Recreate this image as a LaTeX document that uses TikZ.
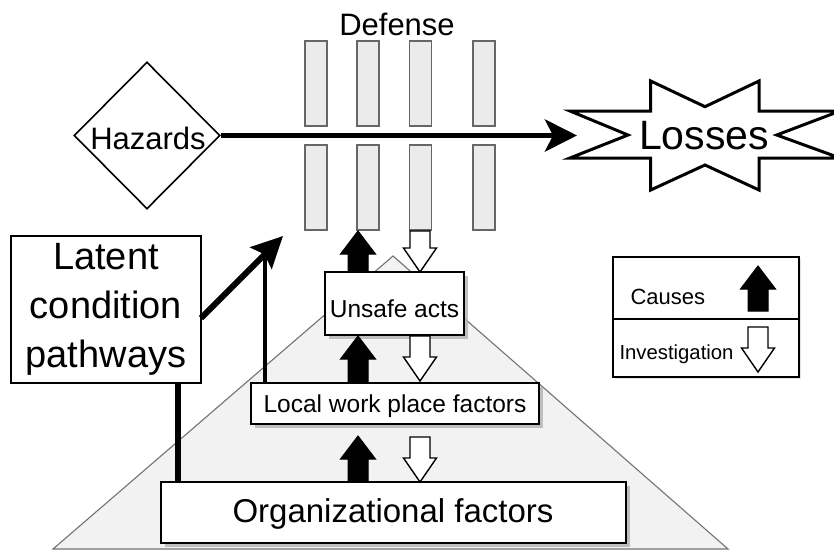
\documentclass[tikz,border=0pt]{standalone}
\usepackage{fontspec}
\setmainfont{Liberation Sans}
\usetikzlibrary{arrows.meta,shapes.geometric,shadows}

% block arrows: [style]{x}{tip y}{base y} and [style]{x}{top y}{tip y}
\newcommand\blockUp[4][]{%
  \draw[#1] ({#2-10},#4) -- ({#2-10},{#3+23}) -- ({#2-17.5},{#3+23}) -- (#2,#3)
    -- ({#2+17.5},{#3+23}) -- ({#2+10},{#3+23}) -- ({#2+10},#4) -- cycle;}
\newcommand\blockDown[4][]{%
  \draw[#1] ({#2-10},#3) -- ({#2-10},{#4-24}) -- ({#2-16.5},{#4-24}) -- (#2,#4)
    -- ({#2+16.5},{#4-24}) -- ({#2+10},{#4-24}) -- ({#2+10},#3) -- cycle;}

\begin{document}
\begin{tikzpicture}[x=1pt,y=-1pt,
  bar/.style={draw=black!60, fill=black!8, line width=1.2pt, minimum width=22pt, minimum height=85pt, inner sep=0pt},
  box/.style={draw=black, fill=white, line width=1.4pt, inner sep=0pt},
  shadowed/.style={drop shadow={shadow xshift=4pt, shadow yshift=-4pt, fill=black!30, opacity=0.8}},
  cause/.style={fill=black, draw=black, line width=1pt, line join=miter},
  invest/.style={fill=white, draw=black, line width=1.4pt, line join=miter},
  pyr/.style={fill=black!5, draw=black!55, line width=1.1pt},
  fA/.style={font=\fontsize{24.5}{29}\selectfont},
  fB/.style={font=\fontsize{31}{37}\selectfont},
]
\useasboundingbox (0,0) rectangle (834,551);

% pyramid
\path[pyr] (393,256) coordinate (apex) -- (728,549) -- (53,549) -- cycle;

% defense barriers
\node[fB] (def) at (397,24) {Defense};
\foreach \i/\x in {1/316,2/368,3/420.5,4/484}{
  \node[bar] (bt\i) at (\x,83.5) {};
  \node[bar] (bb\i) at (\x,187.5) {};
}

% hazards and losses
\node[diamond, draw, line width=1.6pt, minimum width=146pt, minimum height=147pt, inner sep=0pt] (haz) at (147,135.5) {};
\node[fB] (hazt) at (148,138) {Hazards};

\draw[line width=3pt, line join=miter]
  (570,111) -- (650.7,111) -- (650.7,81) -- (705,106.7) -- (759,81) -- (759,111)
  -- (840,111) -- (776.7,135) -- (840,158) -- (759,158) -- (759,190) -- (705,165)
  -- (650.7,190) -- (650.7,158) -- (570,158) -- (628,135) -- cycle;
\node[font=\fontsize{41}{48}\selectfont] (los) at (704,136) {Losses};
\coordinate (losin) at (577,135.5);

\draw[line width=5.5pt, -{Stealth[length=32pt,width=32pt,inset=8pt]}] (haz.east) -- (losin);

% latent condition pathways
\node[box, minimum width=190pt, minimum height=147pt, align=center,
      font=\fontsize{38}{49}\selectfont] (lat) at (106,309.5) {Latent\\condition\\pathways};

% layered factors
\node[box, shadowed, minimum width=465pt, minimum height=61pt] (org) at (393.5,512.5) {};
\node[font=\fontsize{33}{39}\selectfont] (orgt) at (393,514) {Organizational factors};
\node[box, shadowed, minimum width=288pt, minimum height=41pt] (loc) at (395,403.5) {};
\node[fA] (loct) at (395,406) {Local work place factors};
\node[box, shadowed, minimum width=139pt, minimum height=63pt] (uns) at (394.5,303.5) {};
\node[fA] (unst) at (394.5,309) {Unsafe acts};

% latent pathways into the defenses
\coordinate (latout) at (201,318);
\coordinate (pathtip) at (283,236);
\coordinate (locup) at (265,384);
\coordinate (locend) at (265,258);
\draw[line width=3.5pt] (locup) -- (locend);
\draw[line width=6pt] (lat.south -| 178,0) -- (org.north -| 178,0);
\draw[line width=6pt, -{Stealth[length=31pt,width=30pt,inset=5pt]}] (latout) -- (pathtip);

% causes (up) and investigation (down)
\blockUp[cause]{358}{231}{272}
\blockDown[invest]{420}{231}{272}
\blockUp[cause]{358}{336}{383}
\blockDown[invest]{420}{336}{381}
\blockUp[cause]{358}{436}{482}
\blockDown[invest]{420}{437}{482}

% legend
\node[box, drop shadow={shadow xshift=2pt, shadow yshift=-2pt, fill=black!20}, minimum width=186pt, minimum height=120pt] (leg) at (706,317) {};
\draw[line width=1.4pt] (leg.west |- 0,319) -- (leg.east |- 0,319);
\node[font=\fontsize{22}{26}\selectfont, anchor=west] (legc) at (627,297) {Causes};
\node[font=\fontsize{20.3}{24}\selectfont, anchor=west] (legi) at (616,354) {Investigation};
\blockUp[cause]{758}{266}{311}
\blockDown[invest]{758}{327}{372}
\end{tikzpicture}
\end{document}
